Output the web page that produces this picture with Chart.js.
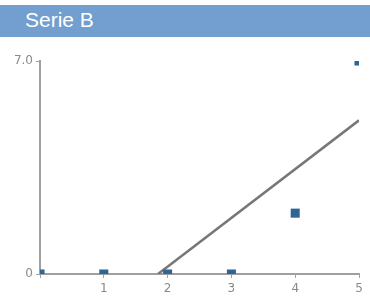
<!DOCTYPE html>
<html>
<head>
<meta charset="utf-8">
<script src="https://cdn.jsdelivr.net/npm/chart.js@4"></script>
<style>
  html, body { margin: 0; padding: 0; background: #fff; }
  #wrap { position: relative; width: 370px; height: 296px; }
  #title {
    position: absolute; left: 0; top: 5px; width: 370px; height: 32px;
    background: #729fcf; color: #fff;
    font: 21px "Liberation Sans", Arial, sans-serif;
    line-height: 30px; padding-left: 25px; box-sizing: border-box;
  }
  canvas { position: absolute; left: 0; top: 0; }
</style>
</head>
<body>
<div id="wrap">
  <canvas id="chart" width="370" height="296"></canvas>
  <div id="title">Serie B</div>
</div>
<script>
// ── Data ─────────────────────────────────────────────────────────────────────
const pointX = [0, 1, 2, 3, 4, 5];
const pointY = [0, 0, 0, 0, 2, 7];
const trendX = [1.85, 5];
const trendY = [0, 5.05];
const xTicks = [0, 1, 2, 3, 4, 5];
const yTicks = [0, 7];
const yTickLabels = ['0', '7.0'];

const pts = pointX.map((x, i) => ({x, y: pointY[i]}));
const trend = trendX.map((x, i) => ({x, y: trendY[i]}));

const AXIS = '#a0a0a0';
const TICK_FONT = { family: "'DejaVu Sans', sans-serif", size: 12 };

new Chart(document.getElementById('chart').getContext('2d'), {
  type: 'scatter',
  data: {
    datasets: [
      { label: 'Serie B', data: pts, pointStyle: 'rect', pointRadius: 6.4,
        backgroundColor: '#2f6497', borderColor: '#2f6497', borderWidth: 0, clip: 0 },
      { label: 'Trend', type: 'line', data: trend, borderColor: '#777777',
        borderWidth: 2.5, pointRadius: 0, fill: false, clip: 0 },
    ],
  },
  options: {
    responsive: false,
    animation: false,
    layout: { padding: { top: 61, right: 11, left: 0, bottom: 0 } },
    plugins: { legend: { display: false }, tooltip: { enabled: false } },
    scales: {
      x: {
        type: 'linear', min: 0, max: 5,
        afterBuildTicks: s => { s.ticks = xTicks.map(v => ({value: v})); },
        afterFit: s => { s.height = 22; },
        ticks: { color: '#8a8a8a', font: TICK_FONT, padding: 4,
                 callback: v => v === 0 ? '' : String(v) },
        grid: { drawOnChartArea: false, tickLength: 4, color: AXIS, lineWidth: 1 },
        border: { color: AXIS, width: 2 },
      },
      y: {
        type: 'linear', min: 0, max: 7,
        afterBuildTicks: s => { s.ticks = yTicks.map(v => ({value: v})); },
        afterFit: s => { s.width = 40; },
        ticks: { color: '#8a8a8a', font: TICK_FONT, padding: 3,
                 callback: v => yTickLabels[yTicks.indexOf(v)] },
        grid: { drawOnChartArea: false, tickLength: 4, color: AXIS, lineWidth: 1 },
        border: { color: AXIS, width: 2 },
      },
    },
  },
});
</script>
</body>
</html>
